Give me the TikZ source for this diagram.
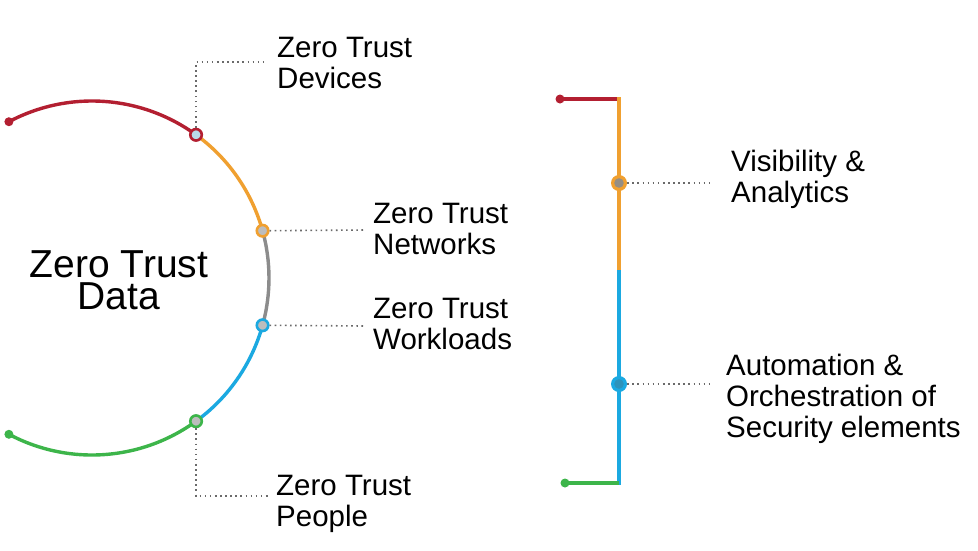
\documentclass[tikz,border=0pt]{standalone}
\usepackage{fontspec}
\setmainfont{Liberation Sans}
\definecolor{zred}{HTML}{B31F31}
\definecolor{zorange}{HTML}{F0A030}
\definecolor{zgrey}{HTML}{8C8C8C}
\definecolor{zblue}{HTML}{1BA9E1}
\definecolor{zgreen}{HTML}{3DB54A}
\definecolor{zdot}{HTML}{6A6A6A}
\definecolor{zfillgrey}{HTML}{BDBDBD}
\definecolor{zfillblue}{HTML}{B9DCEB}
\begin{document}
\begin{tikzpicture}[x=1pt,y=-1pt,
  seg/.style={line width=3.4pt},
  ring/.style={circle, draw=#1, line width=2.6pt, minimum size=11.5pt, inner sep=0pt},
  enddot/.style={circle, fill=#1, minimum size=9pt, inner sep=0pt},
  leader/.style={draw=zdot, line width=1.6pt, dash pattern=on 1.6pt off 3.5pt},
  lbl/.style={anchor=north west, inner sep=0pt, align=left, font=\fontsize{29.5}{31}\selectfont},
  big/.style={anchor=north, inner sep=0pt, align=center, font=\fontsize{39}{32}\selectfont}
]
\useasboundingbox (0,0) rectangle (978,550);
\fill[white] (0,0) rectangle (978,550);

% ---- left arc ----
\coordinate (C) at (92,278);
\path (C) ++(-118:177) coordinate (redend)
      (C) ++(-54:177) coordinate (pdev)
      (C) ++(-15.5:177) coordinate (pnet)
      (C) ++(15.5:177) coordinate (pwork)
      (C) ++(54:177) coordinate (ppeople)
      (C) ++(118:177) coordinate (greenend);
\draw[seg, zred] (redend) arc[start angle=-118, end angle=-54, radius=177];
\draw[seg, zorange] (pdev) arc[start angle=-54, end angle=-15.5, radius=177];
\draw[seg, zgrey] (pnet) arc[start angle=-15.5, end angle=15.5, radius=177];
\draw[seg, zblue] (pwork) arc[start angle=15.5, end angle=54, radius=177];
\draw[seg, zgreen] (ppeople) arc[start angle=54, end angle=118, radius=177];

\node[enddot=zred] (dotred) at (redend) {};
\node[enddot=zgreen] (dotgreen) at (greenend) {};

\node[ring=zred, fill=zfillblue] (mdev) at (pdev) {};
\node[ring=zorange, fill=zfillgrey] (mnet) at (pnet) {};
\node[ring=zblue, fill=zfillgrey] (mwork) at (pwork) {};
\node[ring=zgreen, fill=zfillgrey] (mpeople) at (ppeople) {};

\node[big] (data) at (119,250) {Zero Trust\\Data};

% labels left
\node[lbl] (ldev) at (277,37) {Zero Trust\\Devices};
\node[lbl] (lnet) at (373,203) {Zero Trust\\Networks};
\node[lbl] (lwork) at (373,298) {Zero Trust\\Workloads};
\node[lbl] (lpeople) at (276,475) {Zero Trust\\People};

\coordinate (edev) at (267,62);
\coordinate (enet) at (365,230);
\coordinate (ework) at (365,326);
\coordinate (epeople) at (268,496);

\draw[leader] (mdev.north) |- (edev);
\draw[leader] (mnet.east) -- (enet);
\draw[leader] (mwork.east) -- (ework);
\draw[leader] (mpeople.south) |- (epeople);

% ---- right bracket ----
\coordinate (rtop) at (619,99);
\coordinate (rmid) at (619,270);
\coordinate (rbot) at (619,483);
\node[enddot=zred] (rdotred) at (560,99) {};
\node[enddot=zgreen] (rdotgreen) at (565,483) {};
\draw[seg, zred] (rdotred.center) -- (rtop);
\draw[seg, zorange] (619,97.3) -- (rmid);
\draw[seg, zblue] (rmid) -- (619,484.7);
\draw[seg, zgreen] (rdotgreen.center) -- (rbot);

\node[circle, fill=zorange, minimum size=16pt, inner sep=0pt] (mvis) at (619,183) {};
\fill[zgrey!90!zorange] (mvis.center) circle (4.8pt);
\node[circle, fill=zblue, minimum size=16pt, inner sep=0pt] (mauto) at (619,384) {};
\fill[zblue!80!black!90] (mauto.center) circle (4.8pt);

\node[lbl] (lvis) at (731,150) {Visibility \&\\Analytics};
\node[lbl] (lauto) at (726,354) {Automation \&\\Orchestration of\\Security elements};

\coordinate (evis) at (711,183);
\coordinate (eauto) at (712,384);
\draw[leader] (mvis.east) -- (evis);
\draw[leader] (mauto.east) -- (eauto);
\end{tikzpicture}
\end{document}
